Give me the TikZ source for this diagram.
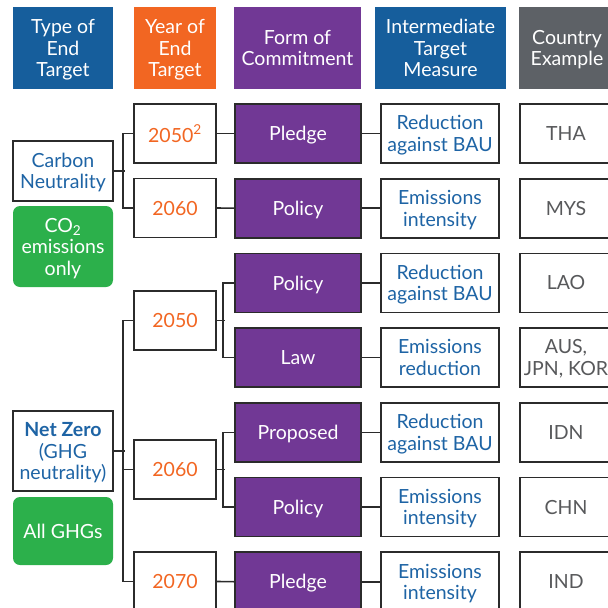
\documentclass[tikz,border=0pt]{standalone}
\usepackage{fontspec}
\setmainfont{Lato}
\definecolor{hblue}{RGB}{22, 94, 156}
\definecolor{horange}{RGB}{242, 102, 34}
\definecolor{hpurple}{RGB}{113, 56, 149}
\definecolor{hgray}{RGB}{93, 97, 102}
\definecolor{hgreen}{RGB}{44, 176, 75}
\definecolor{tblue}{RGB}{30, 100, 165}
\definecolor{tgray}{RGB}{88, 89, 91}
\definecolor{edge}{RGB}{43, 43, 43}

\tikzset{
	box/.style={draw=edge, line width=1.6pt, inner sep=0pt, align=center,
		text depth=0pt, font=\fontsize{19.5}{21.5}\selectfont},
	hdr/.style={fill=#1, text=white, inner sep=0pt, align=center, text depth=0pt,
		minimum height=82pt, font=\fontsize{19.5}{21.5}\selectfont},
	typebox/.style={box, fill=white, text=tblue, minimum width=100pt},
	gasbox/.style={fill=hgreen, text=white, rounded corners=7pt, inner sep=0pt,
		align=center, text depth=0pt, minimum width=100pt,
		font=\fontsize{19.5}{21.5}\selectfont},
	yearbox/.style={box, fill=white, text=horange, minimum width=82pt, minimum height=59pt},
	formbox/.style={box, fill=hpurple, text=white, minimum width=126pt, minimum height=59pt},
	measbox/.style={box, fill=white, text=tblue, minimum width=118pt, minimum height=59pt},
	ctrybox/.style={box, fill=white, text=tgray, minimum width=92pt, minimum height=59pt},
	link/.style={draw=edge, line width=1.6pt},
}

\begin{document}
\begin{tikzpicture}[x=1pt, y=-1pt]
	\useasboundingbox (0,0) rectangle (608,608);
	\clip (0,0) rectangle (608,608);

	% en-tetes
	\node[hdr=hblue, minimum width=100pt] (h1) at (63,48) {Type of\\End\\Target};
	\node[hdr=horange, minimum width=82pt] (h2) at (175,48) {Year of\\End\\Target};
	\node[hdr=hpurple, minimum width=127pt] (h3) at (297.5,48) {Form of\\Commitment};
	\node[hdr=hblue, minimum width=131pt] (h4) at (440.5,48) {Intermediate\\Target\\Measure};
	\node[hdr=hgray, minimum width=96pt] (h5) at (567,48) {Country\\Example};

	% type de cible
	\node[typebox, minimum height=60pt] (cn) at (63,171) {Carbon\\Neutrality};
	\node[gasbox, minimum height=81pt] (co) at (63,246.5) {CO\textsubscript{2}\\emissions\\only};
	\node[typebox, minimum height=80pt] (nz) at (63,451) {{\bfseries Net Zero}\\(GHG\\neutrality)};
	\node[gasbox, minimum height=68pt] (gh) at (63,531) {All GHGs};

	% annees
	\node[yearbox] (y1) at (175,133.5) {2050\textsuperscript{2}};
	\node[yearbox] (y2) at (175,208) {2060};
	\node[yearbox] (y3) at (175,320.5) {2050};
	\node[yearbox] (y4) at (175,469.5) {2060};
	\node[yearbox] (y5) at (175,581.5) {2070};

	% lignes
	\foreach \r/\form/\meas/\ctry in {
		1/Pledge/{Reduction\\against BAU}/THA,
		2/Policy/{Emissions\\intensity}/MYS,
		3/Policy/{Reduction\\against BAU}/LAO,
		4/Law/{Emissions\\reduction}/{AUS,\\JPN, KOR},
		5/Proposed/{Reduction\\against BAU}/IDN,
		6/Policy/{Emissions\\intensity}/CHN,
		7/Pledge/{Emissions\\intensity}/IND} {
		\pgfmathsetmacro{\yy}{133.5 + (\r-1)*74.7}
		\node[formbox] (f\r) at (298,\yy) {\form};
		\node[measbox] (m\r) at (440,\yy) {\meas};
		\node[ctrybox] (c\r) at (566,\yy) {\ctry};
		\draw[link] (f\r.east) -- (m\r.west);
	}

	% branches
	\draw[link] (cn.east) -- ++(11,0);
	\draw[link] (y1.west) -- ++(-10,0) |- (y2.west);
	\draw[link] (nz.east) -- ++(11,0);
	\draw[link] (y3.west) -- ++(-10,0) |- (y5.west);
	\draw[link] (y4.west) -- ++(-10,0);
	\draw[link] (y1.east) -- (f1.west);
	\draw[link] (y2.east) -- (f2.west);
	\draw[link] (y3.east) -- ++(8,0);
	\draw[link] (f3.west) -- ++(-11,0) |- (f4.west);
	\draw[link] (y4.east) -- ++(8,0);
	\draw[link] (f5.west) -- ++(-11,0) |- (f6.west);
	\draw[link] (y5.east) -- (f7.west);
\end{tikzpicture}
\end{document}
